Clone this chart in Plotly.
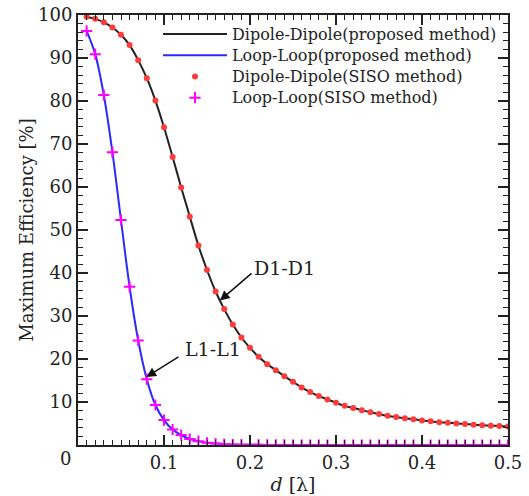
import plotly.graph_objects as go

# separation distance in wavelengths
d = [0.01, 0.02, 0.03, 0.04, 0.05, 0.06, 0.07, 0.08, 0.09, 0.10,
     0.11, 0.12, 0.13, 0.14, 0.15, 0.16, 0.17, 0.18, 0.19, 0.20,
     0.21, 0.22, 0.23, 0.24, 0.25, 0.26, 0.27, 0.28, 0.29, 0.30,
     0.31, 0.32, 0.33, 0.34, 0.35, 0.36, 0.37, 0.38, 0.39, 0.40,
     0.41, 0.42, 0.43, 0.44, 0.45, 0.46, 0.47, 0.48, 0.49, 0.50]

# maximum efficiency [%], dipole-dipole pair
eff_dipole = [99.6, 99.1, 98.3, 97.1, 95.4, 93.0, 89.5, 85.3, 80.1, 73.9,
              67.0, 59.9, 53.1, 46.4, 40.7, 35.7, 31.6, 28.0, 25.0, 22.6,
              20.5, 18.8, 17.4, 16.0, 14.7, 13.4, 12.3, 11.4, 10.6, 9.8,
              9.1, 8.6, 8.1, 7.6, 7.2, 6.8, 6.5, 6.2, 6.0, 5.7,
              5.5, 5.3, 5.2, 5.0, 4.9, 4.7, 4.6, 4.5, 4.4, 4.3]

# maximum efficiency [%], loop-loop pair
eff_loop = [96.3, 90.9, 81.4, 68.1, 52.3, 36.8, 24.3, 15.3, 9.3, 5.8,
            3.6, 2.3, 1.4, 0.9, 0.5, 0.35, 0.2, 0.12, 0.08, 0.05,
            0.03, 0.02, 0.01, 0.01, 0.0, 0.0, 0.0, 0.0, 0.0, 0.0,
            0.0, 0.0, 0.0, 0.0, 0.0, 0.0, 0.0, 0.0, 0.0, 0.0,
            0.0, 0.0, 0.0, 0.0, 0.0, 0.0, 0.0, 0.0, 0.0, 0.0]

series_names = ["Dipole-Dipole(proposed method)", "Loop-Loop(proposed method)",
                "Dipole-Dipole(SISO method)", "Loop-Loop(SISO method)"]

FONT = "DejaVu Serif"
INK = "#222222"


def legend_label(s):
    # larger glyphs than the legend's own font so rows stay tightly packed
    return '<span style="font-size:16px">' + s + "</span>"


fig = go.Figure()
fig.add_trace(go.Scatter(x=d, y=eff_dipole, mode="lines", line_shape="spline",
                         line=dict(color="#222222", width=2),
                         name=legend_label(series_names[0])))
fig.add_trace(go.Scatter(x=d, y=eff_loop, mode="lines", line_shape="spline",
                         line=dict(color="#2a2aff", width=2),
                         name=legend_label(series_names[1])))
fig.add_trace(go.Scatter(x=d, y=eff_dipole, mode="markers",
                         marker=dict(color="#ff3c3c", size=6, symbol="circle"),
                         name=legend_label(series_names[2])))
fig.add_trace(go.Scatter(x=d, y=eff_loop, mode="markers",
                         marker=dict(color="#ff00ff", size=8, symbol="cross-thin",
                                     line=dict(color="#ff00ff", width=2)),
                         name=legend_label(series_names[3])))

axis_common = dict(showline=True, linecolor=INK, linewidth=2, mirror="allticks",
                   ticks="inside", ticklen=10, tickwidth=1.5, tickcolor=INK,
                   showgrid=False, zeroline=False, labelalias={"0": " "},
                   automargin=False,
                   tickfont=dict(family=FONT, size=18, color=INK))

fig.update_xaxes(range=[0, 0.5], tickmode="linear", tick0=0, dtick=0.1,
                 minor=dict(dtick=0.01, ticks="inside", ticklen=5, tickwidth=1.2,
                            tickcolor=INK, showgrid=False),
                 title=dict(text="<i>d</i> [λ]", font=dict(family=FONT, size=19, color=INK),
                            standoff=6),
                 **axis_common)
fig.update_yaxes(range=[0, 100], tickmode="linear", tick0=0, dtick=10,
                 minor=dict(dtick=2, ticks="inside", ticklen=5, tickwidth=1.2,
                            tickcolor=INK, showgrid=False),
                 title=dict(text="Maximum Efficiency [%]",
                            font=dict(family=FONT, size=18, color=INK), standoff=0),
                 **axis_common)

annos = [
    # shared origin label
    dict(x=0, y=0, xref="x", yref="y", text="0", showarrow=False,
         xanchor="center", yanchor="middle", xshift=-13, yshift=-13,
         font=dict(family=FONT, size=18, color=INK)),
    dict(x=0.165, y=33.6, ax=0.2035, ay=40.2, xref="x", yref="y", axref="x", ayref="y",
         text="", showarrow=True, arrowhead=2, arrowsize=1.3, arrowwidth=1.5,
         arrowcolor="#111111"),
    dict(x=0.2023, y=41.2, xref="x", yref="y", text="D1-D1", showarrow=False,
         xanchor="left", yanchor="middle", font=dict(family=FONT, size=19, color=INK)),
    dict(x=0.0795, y=15.8, ax=0.1186, ay=20.7, xref="x", yref="y", axref="x", ayref="y",
         text="", showarrow=True, arrowhead=2, arrowsize=1.3, arrowwidth=1.5,
         arrowcolor="#111111"),
    dict(x=0.122, y=22.3, xref="x", yref="y", text="L1-L1", showarrow=False,
         xanchor="left", yanchor="middle", font=dict(family=FONT, size=19, color=INK)),
]

fig.update_layout(
    width=529, height=496,
    margin=dict(l=78, r=21, t=15, b=51),
    paper_bgcolor="white", plot_bgcolor="white",
    font=dict(family=FONT, color=INK),
    annotations=annos,
    legend=dict(x=0.186, y=0.992, xanchor="left", yanchor="top",
                bgcolor="rgba(0,0,0,0)", borderwidth=0, itemwidth=64,
                tracegroupgap=0,
                font=dict(family=FONT, size=14, color=INK)),
)

fig.write_html("out.html")
